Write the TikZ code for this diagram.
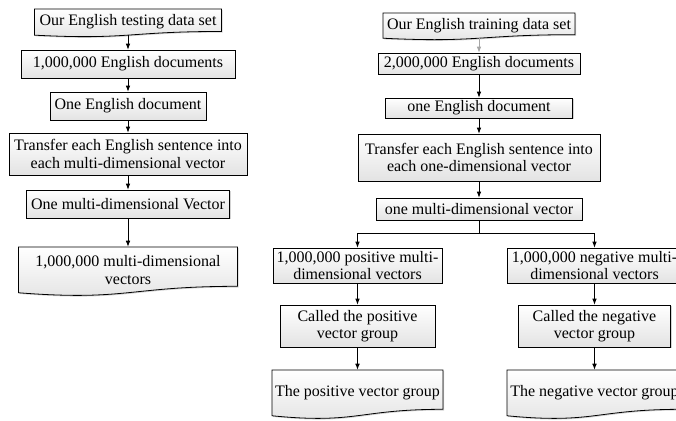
\documentclass[tikz,border=0pt]{standalone}
\usepackage{fontspec}
\setmainfont{Liberation Serif}
\usetikzlibrary{arrows.meta,shadows}
\tikzset{
  fillsty/.style={draw=black, line width=0.6pt, top color=white, bottom color=gray!22,
    drop shadow={shadow xshift=0.9pt, shadow yshift=-0.9pt, opacity=0.35}},
  box/.style={fillsty, inner sep=0pt, align=center, font=\fontsize{12}{13}\selectfont},
  doctext/.style={draw=none, inner sep=0pt, align=center, font=\fontsize{12}{13}\selectfont},
  docshape/.style={fillsty},
  arr/.style={line width=0.6pt, -{Latex[length=4.5pt,width=3.5pt]}},
  plainline/.style={line width=0.6pt},
}
\newcommand\mkbox[6]{%
  \pgfmathsetmacro\mkcy{#3+#5/2}%
  \pgfmathsetmacro\mkw{#4*0.75}%
  \pgfmathsetmacro\mkh{#5*0.75}%
  \node[box, minimum width=\mkw pt, minimum height=\mkh pt] (#1) at (#2,\mkcy) {#6};}
\newcommand\mkdoc[6]{%
  \pgfmathsetmacro\mkxa{#2-#4/2}\pgfmathsetmacro\mkxb{#2+#4/2}%
  \pgfmathsetmacro\mkya{#3+0.802*#5}\pgfmathsetmacro\mkyb{#3+1.107*#5}\pgfmathsetmacro\mkyc{#3+0.934*#5}%
  \path[docshape] (\mkxa,#3) -- (\mkxb,#3) -- (\mkxb,\mkya) .. controls (#2,\mkya) and (#2,\mkyb) .. (\mkxa,\mkyc) -- cycle;
  \pgfmathsetmacro\mkcy{#3+0.467*#5}%
  \pgfmathsetmacro\mkw{#4*0.75}\pgfmathsetmacro\mkh{0.934*#5*0.75}%
  \node[doctext, minimum width=\mkw pt, minimum height=\mkh pt] (#1) at (#2,\mkcy) {#6};}
\begin{document}
\begin{tikzpicture}[x=0.75pt,y=-0.75pt]
\useasboundingbox (0,0) rectangle (676,421);
\clip (0,0) rectangle (676,421);
% left column
\mkdoc{L1}{128}{9}{187}{28}{Our English testing data set}
\mkbox{L2}{128}{50}{214}{28}{1,000,000 English documents}
\mkbox{L3}{128}{92}{156}{28}{One English document}
\mkbox{L4}{128}{133}{238}{42}{Transfer each English sentence into\\each multi-dimensional vector}
\mkbox{L5}{128}{190}{203}{28}{One multi-dimensional Vector}
\mkdoc{L6}{128}{247}{219}{49}{1,000,000 multi-dimensional\\vectors}
% right column
\mkdoc{R1}{479}{13}{192}{27}{Our English training data set}
\mkbox{R2}{479}{53}{202}{21}{2,000,000 English documents}
\mkbox{R3}{479}{98}{187}{20}{one English document}
\mkbox{R4}{479}{134}{242}{47}{Transfer each English sentence into\\each one-dimensional vector}
\mkbox{R5}{479}{198}{206}{22}{one multi-dimensional vector}
\mkbox{P1}{357.5}{248}{169}{35}{1,000,000 positive multi-\\dimensional vectors}
\mkbox{P2}{357.5}{305}{155}{42}{Called the positive\\vector group}
\mkdoc{P3}{357.5}{370}{171}{49}{The positive vector group}
\mkbox{N1}{594.5}{248}{175}{35}{1,000,000 negative multi-\\dimensional vectors}
\mkbox{N2}{594.5}{305}{152}{42}{Called the negative\\vector group}
\mkdoc{N3}{594.5}{370}{175}{49}{The negative vector group}
% connectors
\draw[arr] (L1) -- (L2);
\draw[arr] (L2) -- (L3);
\draw[arr] (L3) -- (L4);
\draw[arr] (L4) -- (L5);
\draw[arr] (L5) -- (L6);
\draw[arr, draw=gray!70] (R1) -- (R2);
\draw[arr] (R2) -- (R3);
\draw[arr] (R3) -- (R4);
\draw[arr] (R4) -- (R5);
\coordinate (split) at (479,233);
\draw[plainline] (R5) -- (split);
\draw[arr] (split) -| (P1);
\draw[arr] (split) -| (N1);
\draw[arr] (P1) -- (P2);
\draw[arr] (P2) -- (P3);
\draw[arr] (N1) -- (N2);
\draw[arr] (N2) -- (N3);
\end{tikzpicture}
\end{document}
